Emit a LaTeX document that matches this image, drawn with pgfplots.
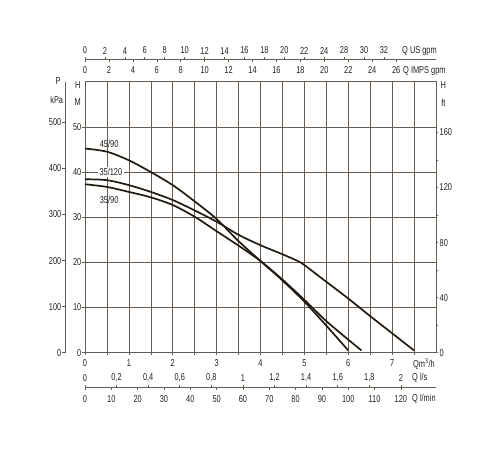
\documentclass[border=0pt]{standalone}
\usepackage{fontspec}
\setmainfont[FakeStretch=0.74]{Liberation Sans}
\usepackage{pgfplots}
\pgfplotsset{compat=1.18}

\definecolor{gridc}{RGB}{100,90,80}
\definecolor{curvec}{RGB}{35,26,18}
\definecolor{txtc}{RGB}{35,32,30}

\pgfplotsset{
  base/.style={
    scale only axis, width=351pt, height=271pt,
    xmin=0, xmax=8, ymin=0, ymax=60,
    /pgf/number format/assume math mode=true,
    tick label style={font=\fontsize{10}{11}\selectfont, text=txtc, inner sep=1pt},
    tick align=outside, major tick length=2.5pt, minor tick length=2.5pt,
    tick style={draw=gridc, line width=0.6pt},
    axis line style={draw=gridc, line width=0.7pt, -},
  },
  strip/.style={
    base, height=10pt, hide y axis, ymin=0, ymax=1,
  },
}

\begin{document}
\begin{tikzpicture}[font=\fontsize{10}{11}\selectfont, text=txtc]
\useasboundingbox (-85pt,-97.3pt) rectangle (415pt,352.7pt);

% main chart, H in metres against Q in m3/h
\begin{axis}[base,
  xtick={0,...,7}, minor xtick={0.5,1.5,...,7.5},
  ytick={0,10,...,50},
  xtick pos=left, ytick pos=left,
  grid=both,
  grid style={draw=gridc, line width=0.6pt},
  minor grid style={draw=gridc, line width=0.6pt},
  xticklabel shift=3.5pt,
]
% 45/90
\addplot[curvec, line width=1.7pt, smooth] coordinates {
  (0,45.2) (0.5,44.5) (1,42.6) (1.5,40.0) (2,37.1) (2.5,33.5) (3,29.6)
  (3.5,24.7) (4,20.3) (4.5,16.0) (5,11.3) (5.5,6.0) (6,0.5)};
% 35/120
\addplot[curvec, line width=1.7pt, smooth] coordinates {
  (0,38.4) (0.5,38.2) (1,37.1) (1.5,35.6) (2,33.8) (2.5,31.5) (3,29.0)
  (3.5,26.1) (4,23.8) (4.5,21.8) (4.85,20.3) (5,19.4) (5.5,15.7) (6,12.0)
  (6.5,8.1) (7,4.3) (7.5,0.5)};
% 35/90
\addplot[curvec, line width=1.7pt, smooth] coordinates {
  (0,37.3) (0.5,36.7) (1,35.6) (1.5,34.4) (2,32.7) (2.5,30.1) (3,26.9)
  (3.5,23.7) (4,20.3) (4.5,16.2) (5,11.7) (5.5,7.0) (6,2.9) (6.3,0.5)};
\node[inner sep=1pt] at (axis cs:0.55,46.3) {45/90};
\node[fill=white, inner sep=1.5pt] at (axis cs:0.59,40) {35/120};
\node[inner sep=1pt] at (axis cs:0.55,33.8) {35/90};
\end{axis}

% P in kPa
\begin{axis}[base, at={(-20pt,0pt)}, hide x axis, axis y line*=left,
  ymax=588.4, ytick={0,100,...,500}]
\end{axis}

% H in ft
\begin{axis}[base, hide x axis, axis y line*=right,
  ymax=196.85, ytick={0,40,...,160}, minor ytick={20,60,100,140}]
\end{axis}

% Q US gpm
\begin{axis}[strip, at={(0pt,293.4pt)}, anchor=north west, axis x line*=top,
  xmax=35.223, xtick={0,2,...,30},
  xticklabels={0,2,4,6,8,10,12,14,16,18,20,22,24,28,30,32},
  xticklabel shift=1.5pt]
\end{axis}

% Q IMPS gpm
\begin{axis}[strip, at={(0pt,293.4pt)}, anchor=south west, axis x line*=bottom,
  xmax=29.33, xtick={0,2,...,26}, xticklabel shift=4pt]
\end{axis}

% Q l/s
\begin{axis}[strip, at={(0pt,-35pt)}, anchor=north west, axis x line*=top,
  xmax=2.2222, xtick={0,0.2,0.4,0.6,0.8,1,1.2,1.4,1.6,1.8,2},
  xticklabels={0,{0,2},{0,4},{0,6},{0,8},1,{1,2},{1,4},{1,6},{1,8},2},
  xticklabel shift=2.5pt]
\end{axis}

% Q l/min
\begin{axis}[strip, at={(0pt,-35pt)}, anchor=south west, axis x line*=bottom,
  xmax=133.333, xtick={0,10,...,120}, xticklabel shift=4pt]
\end{axis}

% unit labels
\node[anchor=west, inner sep=0pt] at (317pt,302pt) {Q US gpm};
\node[anchor=west, inner sep=0pt] at (318pt,282pt) {Q IMPS gpm};
\node[anchor=west, inner sep=0pt] at (328pt,-11.6pt) {Qm\textsuperscript{3}/h};
\node[anchor=west, inner sep=0pt] at (327pt,-25.3pt) {Q l/s};
\node[anchor=west, inner sep=0pt] at (327pt,-46.3pt) {Q l/min};
\node at (-27pt,272pt) {P};
\node at (-28.3pt,252.7pt) {kPa};
\node at (-7.3pt,267.7pt) {H};
\node at (-7.3pt,251pt) {M};
\node at (358.3pt,267.7pt) {H};
\node at (358.3pt,249.4pt) {ft};
\end{tikzpicture}
\end{document}
